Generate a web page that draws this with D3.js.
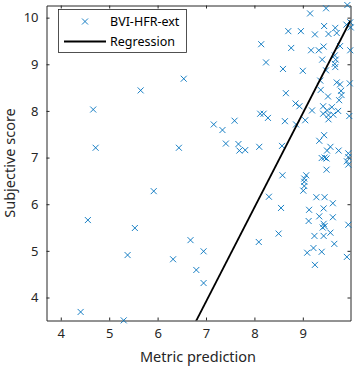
<!DOCTYPE html>
<html><head><meta charset="utf-8">
<script src="https://cdn.jsdelivr.net/npm/d3@7"></script>
<style>body{margin:0;background:#fff}svg{display:block}text{font-family:"Noto Sans",sans-serif}</style>
</head><body>
<script>
const xValues = [4.67,5.65,4.72,6.44,5.92,4.56,5.53,5.38,6.32,4.41,5.30,6.95,6.80,6.95,6.68,6.54,
7.16,7.34,7.59,8.12,8.19,8.28,7.41,7.67,7.69,7.81,8.10,8.14,8.24,8.59,8.65,8.63,8.57,8.58,8.30,8.55,8.50,8.09,
9.92,9.48,9.15,8.70,8.96,9.25,9.44,9.53,9.67,9.70,9.90,9.98,9.99,8.76,9.17,9.33,9.43,9.77,9.98,
9.40,9.66,9.68,9.66,9.67,9.00,9.48,9.36,9.37,9.70,9.77,9.97,9.52,9.79,9.80,9.75,
8.85,8.93,9.19,9.42,9.50,9.60,9.73,9.42,9.53,9.63,9.53,9.96,8.86,9.05,
9.44,9.34,9.57,9.50,9.74,9.39,9.45,9.49,9.94,9.94,9.91,9.94,9.49,
9.07,9.03,9.03,9.03,9.01,9.28,9.45,9.62,9.13,9.43,9.34,9.62,9.12,9.43,9.45,9.41,9.94,
9.24,9.43,9.57,9.65,9.22,9.09,9.39,9.91,9.25];
const yValues = [8.03,8.44,7.21,7.21,6.28,5.66,5.49,4.91,4.82,3.69,3.51,4.99,4.59,4.31,5.23,8.69,
7.71,7.59,7.79,7.94,7.94,7.85,7.30,7.29,7.15,7.16,7.23,9.43,9.04,8.90,8.38,7.78,7.25,6.62,6.16,5.92,5.37,5.19,
10.27,10.20,10.09,9.71,9.71,9.64,9.82,9.65,9.78,9.67,9.85,9.90,9.79,9.35,9.30,9.30,9.38,9.39,9.30,
9.10,9.19,9.10,9.01,8.94,8.86,8.87,8.65,8.45,8.61,8.57,8.59,8.31,8.43,8.34,8.23,
8.16,8.10,8.01,8.10,8.01,8.08,8.00,7.94,7.91,7.92,7.82,7.89,7.71,7.80,
7.48,7.36,7.23,7.15,7.15,6.99,7.00,6.98,7.09,7.01,6.92,6.85,6.74,
6.62,6.55,6.48,6.39,6.29,6.15,6.15,6.02,5.88,5.91,5.74,5.72,5.64,5.58,5.53,5.50,5.56,
5.32,5.32,5.39,5.15,5.06,4.96,4.98,4.87,4.70];
const xTicks = [4,5,6,7,8,9];
const yTicks = [4,5,6,7,8,9,10];
const regSlope = 2.02, regIntercept = -10.23;
const legendLabels = ["BVI-HFR-ext","Regression"];
const xLabel = "Metric prediction", yLabel = "Subjective score";

const W=356,H=369;
const svg=d3.select("body").append("svg").attr("width",W).attr("height",H);
const x=d3.scaleLinear().domain([3.705,9.985]).range([46.5,350.5]);
const y=d3.scaleLinear().domain([3.507,10.26]).range([320.5,5.5]);
const axCol="#262626", blue="#0072BD";

svg.append("defs").append("clipPath").attr("id","clip").append("rect")
 .attr("x",46.5).attr("y",5.5).attr("width",304).attr("height",315);

// axes
const fmt=d3.format("d");
const gb=svg.append("g").attr("transform","translate(0,320.5)").call(d3.axisBottom(x).tickValues(xTicks).tickSizeInner(-3).tickSizeOuter(0).tickPadding(8).tickFormat(fmt));
const gt=svg.append("g").attr("transform","translate(0,5.5)").call(d3.axisTop(x).tickValues(xTicks).tickSizeInner(-3).tickSizeOuter(0).tickFormat(""));
const gl=svg.append("g").attr("transform","translate(46.5,0)").call(d3.axisLeft(y).tickValues(yTicks).tickSizeInner(-3).tickSizeOuter(0).tickPadding(8).tickFormat(fmt));
const gr=svg.append("g").attr("transform","translate(350.5,0)").call(d3.axisRight(y).tickValues(yTicks).tickSizeInner(-3).tickSizeOuter(0).tickFormat(""));
[gb,gt,gl,gr].forEach(g=>{
  g.select(".domain").attr("stroke",axCol).attr("stroke-width",1);
  g.selectAll(".tick line").attr("stroke",axCol);
  g.selectAll(".tick text").attr("fill",axCol).attr("font-size",13).attr("font-family","Noto Sans");
});

// points
const mk=svg.append("g");
const s=3;
xValues.forEach((v,i)=>{
  const cx=x(v), cy=y(yValues[i]);
  mk.append("path").attr("d",`M${cx-s},${cy-s}L${cx+s},${cy+s}M${cx-s},${cy+s}L${cx+s},${cy-s}`)
    .attr("stroke",blue).attr("stroke-width",0.9).attr("fill","none");
});

// regression line
const dom=x.domain();
svg.append("line").attr("clip-path","url(#clip)")
 .attr("x1",x(dom[0])).attr("y1",y(regSlope*dom[0]+regIntercept))
 .attr("x2",x(dom[1])).attr("y2",y(regSlope*dom[1]+regIntercept))
 .attr("stroke","#000").attr("stroke-width",1.8);

// labels
svg.append("text").attr("x",198).attr("y",362).attr("text-anchor","middle").attr("font-size",14.5).attr("fill",axCol).text(xLabel);
svg.append("text").attr("transform","translate(15,163) rotate(-90)").attr("text-anchor","middle").attr("font-size",14.5).attr("fill",axCol).text(yLabel);

// legend
const lg=svg.append("g");
lg.append("rect").attr("x",58.5).attr("y",9.5).attr("width",128).attr("height",43).attr("fill","#fff").attr("stroke",axCol).attr("stroke-width",0.8);
const lx=85, ly=21.5;
lg.append("path").attr("d",`M${lx-s},${ly-s}L${lx+s},${ly+s}M${lx-s},${ly+s}L${lx+s},${ly-s}`).attr("stroke",blue).attr("stroke-width",0.9);
lg.append("line").attr("x1",64).attr("x2",106).attr("y1",41.5).attr("y2",41.5).attr("stroke","#000").attr("stroke-width",1.8);
lg.append("text").attr("x",110).attr("y",21.5).attr("dy","0.35em").attr("font-size",12.5).attr("fill","#000").text(legendLabels[0]);
lg.append("text").attr("x",110).attr("y",41.5).attr("dy","0.35em").attr("font-size",12.5).attr("fill","#000").text(legendLabels[1]);
</script>
</body></html>
